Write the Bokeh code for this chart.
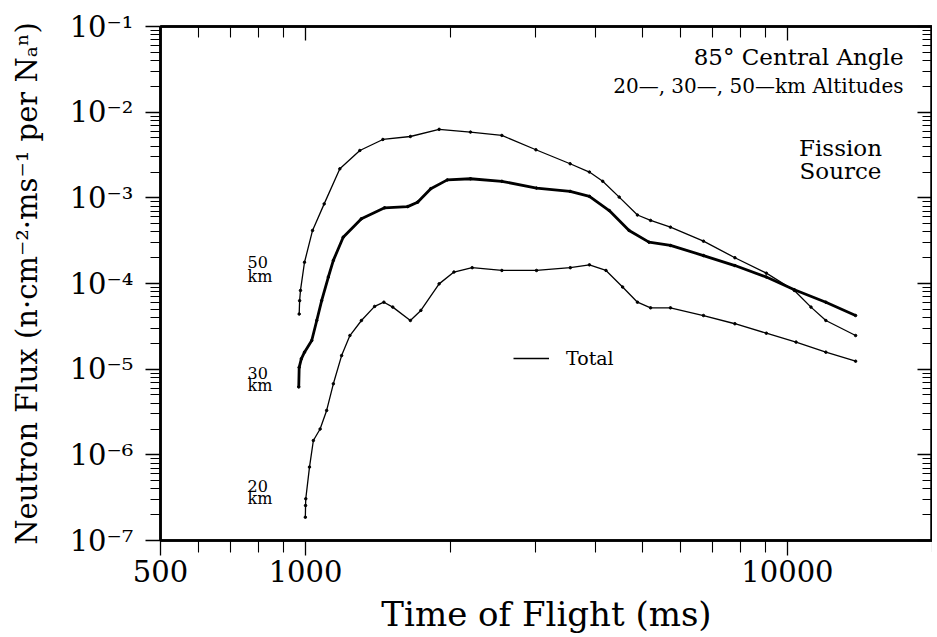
import math
from bokeh.plotting import figure
from bokeh.models import LogAxis, FixedTicker, Label, Legend, LegendItem
from bokeh.embed import file_html
from bokeh.resources import INLINE

# ---------------- data ----------------
t_50km = [970, 972, 976, 995, 1034, 1093, 1178, 1296, 1447, 1650, 1893, 2199, 2555,
          3006, 3540, 3882, 4137, 4476, 4884, 5200, 5718, 6695, 7780, 9041, 10337,
          11190, 12015, 13850]
f_50km = [4.4e-5, 6.3e-5, 8.3e-5, 1.77e-4, 4.16e-4, 8.5e-4, 2.18e-3, 3.57e-3, 4.8e-3,
          5.2e-3, 6.3e-3, 5.85e-3, 5.35e-3, 3.64e-3, 2.5e-3, 2.0e-3, 1.56e-3, 1.02e-3,
          6.3e-4, 5.45e-4, 4.55e-4, 3.12e-4, 2.0e-4, 1.32e-4, 8.3e-5, 5.3e-5, 3.7e-5,
          2.47e-5]

t_30km = [968, 970, 980, 995, 1030, 1055, 1080, 1115, 1142, 1197, 1306, 1459, 1629,
          1708, 1819, 1969, 2199, 2555, 3015, 3540, 3882, 4268, 4692, 5160, 5718, 6695,
          7780, 9041, 10337, 12015, 13850]
f_30km = [6.2e-6, 1.05e-5, 1.32e-5, 1.58e-5, 2.16e-5, 3.7e-5, 6.3e-5, 1.19e-4, 1.86e-4,
          3.47e-4, 5.7e-4, 7.65e-4, 7.9e-4, 8.9e-4, 1.28e-3, 1.62e-3, 1.67e-3, 1.56e-3,
          1.3e-3, 1.19e-3, 1.04e-3, 7.1e-4, 4.16e-4, 3.04e-4, 2.78e-4, 2.12e-4, 1.62e-4,
          1.19e-4, 8.45e-5, 6.05e-5, 4.23e-5]

t_20km = [999, 1000, 1001, 1019, 1038, 1072, 1106, 1142, 1188, 1236, 1306, 1391, 1454,
          1517, 1650, 1735, 1893, 2032, 2217, 2555, 3015, 3543, 3882, 4202, 4549, 4884,
          5200, 5718, 6695, 7780, 9041, 10420, 12015, 13850]
f_20km = [1.87e-7, 2.56e-7, 3.07e-7, 7.2e-7, 1.47e-6, 2.0e-6, 3.3e-6, 6.75e-6, 1.44e-5,
          2.47e-5, 3.7e-5, 5.4e-5, 6.05e-5, 5.3e-5, 3.7e-5, 4.85e-5, 9.9e-5, 1.36e-4,
          1.53e-4, 1.42e-4, 1.42e-4, 1.53e-4, 1.65e-4, 1.42e-4, 9.1e-5, 6.05e-5, 5.2e-5,
          5.2e-5, 4.23e-5, 3.39e-5, 2.63e-5, 2.07e-5, 1.58e-5, 1.24e-5]

x_ticks = [500, 1000, 10000]
x_tick_labels = ["500", "1000", "10000"]
y_ticks = [1e-7, 1e-6, 1e-5, 1e-4, 1e-3, 1e-2, 1e-1]
y_tick_labels = ["10⁻⁷", "10⁻⁶", "10⁻⁵", "10⁻⁴", "10⁻³", "10⁻²", "10⁻¹"]

x_minor = [m * 10 ** k for k in (2, 3, 4) for m in range(1, 10)
           if 500 < m * 10 ** k <= 20000 and m * 10 ** k not in x_ticks]
y_minor = [m * 10.0 ** k for k in range(-7, -1) for m in range(2, 10)]

SERIF = "DejaVu Serif"

p = figure(x_axis_type="log", y_axis_type="log",
           x_range=(500, 20000), y_range=(1e-7, 1e-1),
           frame_width=772, frame_height=514,
           min_border_left=160, min_border_top=26, min_border_right=0, min_border_bottom=0,
           output_backend="svg", toolbar_location=None)
p.grid.visible = False
p.outline_line_color = "black"
p.outline_line_width = 2.5


def style(ax, ticker, maj_in, maj_out, min_in, min_out):
    ax.ticker = ticker
    ax.axis_line_width = 2.5
    ax.axis_line_color = "black"
    ax.major_tick_line_width = 1.3
    ax.minor_tick_line_width = 1.1
    ax.major_tick_in = maj_in
    ax.major_tick_out = maj_out
    ax.minor_tick_in = min_in
    ax.minor_tick_out = min_out
    ax.major_label_text_font = SERIF
    ax.major_label_text_color = "black"


xt = FixedTicker(ticks=x_ticks, minor_ticks=x_minor)
yt = FixedTicker(ticks=y_ticks, minor_ticks=y_minor)

bx = p.xaxis[0]
style(bx, xt, 0, 15, 0, 12)
bx.major_label_overrides = dict(zip(x_ticks, x_tick_labels))
bx.major_label_text_font_size = "29px"
bx.major_label_standoff = 4
bx.axis_label = "Time of Flight (ms)"
bx.axis_label_text_font = SERIF
bx.axis_label_text_font_size = "34px"
bx.axis_label_text_font_style = "normal"
bx.axis_label_text_color = "black"
bx.axis_label_standoff = 9

ly = p.yaxis[0]
style(ly, yt, 0, 15, 0, 10)
ly.major_label_overrides = dict(zip(y_ticks, y_tick_labels))
ly.major_label_text_font_size = "29px"
ly.major_label_standoff = 12
ly.axis_label = "Neutron Flux (n·cm⁻²·ms⁻¹ per Nₐⁿ)"
ly.axis_label_text_font = SERIF
ly.axis_label_text_font_size = "29px"
ly.axis_label_text_font_style = "normal"
ly.axis_label_text_color = "black"
ly.axis_label_standoff = 23

top = LogAxis()
style(top, FixedTicker(ticks=x_ticks, minor_ticks=x_minor), 14, 0, 11, 0)
top.major_label_overrides = {t: "" for t in x_ticks}
top.major_label_text_font_size = "10px"
top.major_label_standoff = 0
p.add_layout(top, "above")

right = LogAxis()
style(right, FixedTicker(ticks=y_ticks, minor_ticks=y_minor), 15, 0, 10, 0)
right.major_label_overrides = {t: "" for t in y_ticks}
right.major_label_text_font_size = "10px"
right.major_label_standoff = 0
p.add_layout(right, "right")

# ---------------- curves ----------------
r50 = p.line(t_50km, f_50km, line_color="black", line_width=1.3)
p.scatter(t_50km, f_50km, size=2.5, color="black")
r30 = p.line(t_30km, f_30km, line_color="black", line_width=2.8)
p.scatter(t_30km, f_30km, size=2.5, color="black")
r20 = p.line(t_20km, f_20km, line_color="black", line_width=1.3)
p.scatter(t_20km, f_20km, size=2.5, color="black")

legend = Legend(items=[LegendItem(label="Total", renderers=[r50])],
                location=(353, 171), padding=0, margin=0, spacing=0,
                glyph_width=36, glyph_height=20, label_height=20, label_standoff=17,
                label_text_font=SERIF, label_text_font_size="19px",
                label_text_color="black",
                border_line_color=None, background_fill_alpha=0)
p.add_layout(legend)


# ---------------- annotations ----------------
def lab(text, x, y, size, align="left"):
    p.add_layout(Label(x=x, y=y, x_units="screen", y_units="screen", text=text,
                       text_align=align, text_baseline="alphabetic",
                       text_font=SERIF, text_font_size=size, text_color="black"))


lab("85° Central Angle", 743, 484, "23px", align="right")
lab("20—, 30—, 50—km Altitudes", 743, 455, "20px", align="right")
lab("Fission", 680, 393, "23px", align="center")
lab("Source", 680, 370, "23px", align="center")
for name, y_num, y_km in (("50", 279, 264), ("30", 168, 155), ("20", 55, 42)):
    lab(name, 87, y_num, "16px")
    lab("km", 87, y_km, "16px")

open("out.html", "w").write(file_html(p, INLINE))
